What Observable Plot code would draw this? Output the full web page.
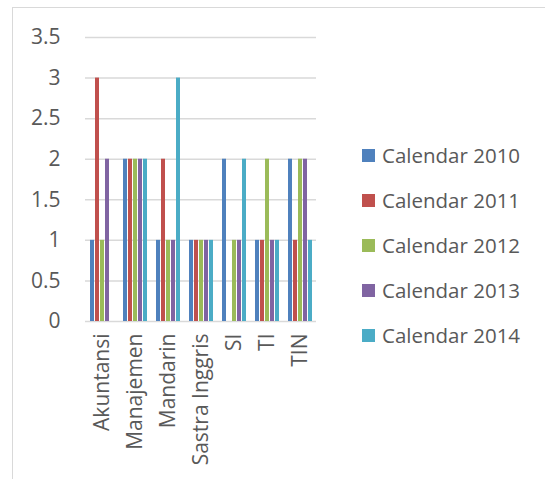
<!DOCTYPE html>
<html>
<head>
<meta charset="utf-8">
<script src="https://cdn.jsdelivr.net/npm/d3@7"></script>
<script src="https://cdn.jsdelivr.net/npm/@observablehq/plot@0.6"></script>
<style>
  html, body { margin: 0; padding: 0; background: #fff; overflow: hidden; }
  #wrap { position: relative; width: 545px; height: 479px; font-family: "Open Sans", sans-serif; }
  #frame { position: absolute; left: 12px; top: 7px; width: 620px; height: 620px; border: 1.5px solid #d9d9d9; box-sizing: border-box; }
  #chart { position: absolute; left: 0; top: 0; }
  #legend { position: absolute; left: 362px; top: 0; }
  .item { position: absolute; left: 0; display: flex; align-items: center; white-space: nowrap; color: #595959; font-size: 20.5px; }
  .sw { width: 13px; height: 13px; margin-right: 7px; }
</style>
</head>
<body>
<div id="wrap">
  <div id="frame"></div>
  <div id="chart"></div>
  <div id="legend"></div>
</div>
<script>
const categories = ["Akuntansi", "Manajemen", "Mandarin", "Sastra Inggris", "SI", "TI", "TIN"];
const seriesNames = ["Calendar 2010", "Calendar 2011", "Calendar 2012", "Calendar 2013", "Calendar 2014"];
const colors = ["#4f81bd", "#c0504d", "#9bbb59", "#8064a2", "#4bacc6"];
const v2010 = [1, 2, 1, 1, 2, 1, 2];
const v2011 = [3, 2, 2, 1, 0, 1, 1];
const v2012 = [1, 2, 1, 1, 1, 2, 2];
const v2013 = [2, 2, 1, 1, 1, 1, 2];
const v2014 = [0, 2, 3, 1, 2, 1, 1];
const yTicks = [0, 0.5, 1, 1.5, 2, 2.5, 3, 3.5];

const seriesValues = [v2010, v2011, v2012, v2013, v2014];
const rows = [];
categories.forEach((c, i) => {
  seriesNames.forEach((s, j) => rows.push({category: c, series: s, value: seriesValues[j][i]}));
});

const chart = Plot.plot({
  width: 545,
  height: 479,
  marginLeft: 82,
  marginRight: 226,
  marginTop: 37,
  marginBottom: 158,
  style: {fontFamily: "'Open Sans', sans-serif", fontSize: "21px", color: "#595959", background: "transparent"},
  fx: {domain: categories, paddingInner: 0, paddingOuter: 0, label: null},
  x: {domain: seriesNames, paddingInner: 0.2, paddingOuter: 0.8, axis: null},
  y: {domain: [0, 3.5], label: null},
  color: {domain: seriesNames, range: colors},
  marks: [
    Plot.ruleY(yTicks, {stroke: "#d9d9d9", strokeWidth: 1.5}),
    Plot.barY(rows, {fx: "category", x: "series", y: "value", fill: "series"}),
    Plot.axisY(yTicks, {tickSize: 0, tickPadding: 25, fontSize: 21, label: null, tickFormat: d => String(d)}),
    Plot.axisFx({anchor: "bottom", tickRotate: -90, tickSize: 0, tickPadding: 12, fontSize: 21, label: null})
  ]
});
document.getElementById("chart").append(chart);

const legend = document.getElementById("legend");
const rowCenters = [155, 200, 245, 290, 335];
seriesNames.forEach((s, i) => {
  const item = document.createElement("div");
  item.className = "item";
  item.style.top = (rowCenters[i] - 14) + "px";
  item.style.height = "28px";
  const sw = document.createElement("span");
  sw.className = "sw";
  sw.style.background = colors[i];
  const label = document.createElement("span");
  label.textContent = s;
  item.append(sw, label);
  legend.append(item);
});
</script>
</body>
</html>
